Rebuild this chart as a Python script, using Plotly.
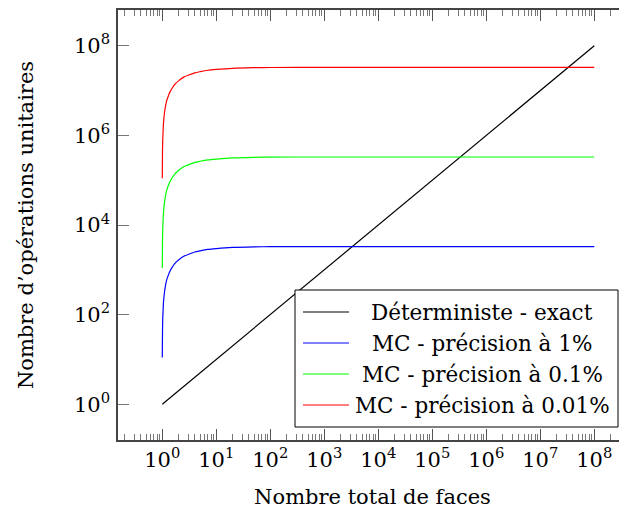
import plotly.graph_objects as go

# ---- data ----
det_x = [1, 1e8]
det_y = [1, 1e8]

mc_x = [1, 1.01, 1.02, 1.03, 1.05, 1.1, 1.2, 1.3, 1.4, 1.5, 1.7, 2, 2.5, 3, 4, 5, 7, 10, 20, 50, 100, 1000, 1e4, 1e8]
mc1_y = [11, 44, 80, 105, 180, 320, 580, 770, 950, 1100, 1370, 1650, 2000, 2200, 2500, 2650, 2850, 2970, 3150, 3250, 3280, 3300, 3300, 3300]
mc01_y = [1.1e3, 4.4e3, 8e3, 1.05e4, 1.8e4, 3.2e4, 5.8e4, 7.7e4, 9.5e4, 1.1e5, 1.37e5, 1.65e5, 2.0e5, 2.2e5, 2.5e5, 2.65e5, 2.85e5, 2.97e5, 3.15e5, 3.25e5, 3.28e5, 3.3e5, 3.3e5, 3.3e5]
mc001_y = [1.1e5, 4.4e5, 8e5, 1.05e6, 1.8e6, 3.2e6, 5.8e6, 7.7e6, 9.5e6, 1.1e7, 1.37e7, 1.65e7, 2.0e7, 2.2e7, 2.5e7, 2.65e7, 2.85e7, 2.97e7, 3.15e7, 3.25e7, 3.28e7, 3.3e7, 3.3e7, 3.3e7]

series_names = ["Déterministe - exact", "MC - précision à 1%", "MC - précision à 0.1%", "MC - précision à 0.01%"]
series_colors = ["black", "#0000ff", "#00ff00", "#ff0000"]

x_tickvals = [1, 10, 100, 1e3, 1e4, 1e5, 1e6, 1e7, 1e8]
x_ticktext = ["10<sup>%d</sup>" % i for i in range(9)]
y_tickvals = [1, 1e2, 1e4, 1e6, 1e8]
y_ticktext = ["10<sup>%d</sup>" % i for i in range(0, 9, 2)]

x_title = "Nombre total de faces"
y_title = "Nombre d’opérations unitaires"

FONT = "DejaVu Serif"
FS = 21

fig = go.Figure()
xs = [det_x, mc_x, mc_x, mc_x]
ys = [det_y, mc1_y, mc01_y, mc001_y]
for xv, yv, nm, col in zip(xs, ys, series_names, series_colors):
    fig.add_trace(go.Scatter(x=xv, y=yv, mode="lines", name=nm,
                             line=dict(color=col, width=1.2, shape="spline", smoothing=0.6),
                             showlegend=False))

OFF = 8  # page body margin
W, H = 619, 503
L, R, T, B = 110, 0, 2, 71
pw, ph = W - L - R, H - T - B

def px(xp):  # page pixel -> paper
    return (xp - OFF - L) / pw

def py(yp):
    return (H - B - (yp - OFF)) / ph

# manual legend (centred text as in reference)
fig.add_shape(type="rect", xref="paper", yref="paper",
              x0=px(295), x1=px(618), y0=py(427), y1=py(290),
              line=dict(color="black", width=1), fillcolor="white", layer="above")
row_y = [312, 343, 374, 405]
for nm, col, yy in zip(series_names, series_colors, row_y):
    fig.add_shape(type="line", xref="paper", yref="paper",
                  x0=px(303), x1=px(349), y0=py(yy), y1=py(yy),
                  line=dict(color=col, width=1.2), layer="above")
    fig.add_annotation(xref="paper", yref="paper", x=px(482), y=py(yy),
                       text=nm, showarrow=False, xanchor="center", yanchor="middle",
                       font=dict(family=FONT, size=FS + 0.5, color="black"))

fig.update_xaxes(type="log", range=[-0.82, 8.606], automargin=False,
                 tickvals=x_tickvals, ticktext=x_ticktext,
                 ticks="inside", ticklen=11, tickcolor="#555", tickwidth=1,
                 minor=dict(ticks="inside", ticklen=6, tickcolor="#777", dtick="D1", showgrid=False),
                 showline=True, linecolor="#444", linewidth=1.5, mirror="ticks",
                 showgrid=False, zeroline=False,
                 tickfont=dict(family=FONT, size=FS, color="black"),
                 title=dict(text=x_title, font=dict(family=FONT, size=FS, color="black"), standoff=18))
fig.update_yaxes(type="log", range=[-0.8, 8.8], automargin=False,
                 tickvals=y_tickvals, ticktext=y_ticktext,
                 ticks="inside", ticklen=11, tickcolor="#777", tickwidth=1,
                 ticklabelstandoff=2,
                 showline=True, linecolor="#444", linewidth=1.5, mirror=False,
                 showgrid=False, zeroline=False,
                 tickfont=dict(family=FONT, size=FS, color="black"),
                 title=dict(text=y_title, font=dict(family=FONT, size=FS, color="black"), standoff=35))

fig.update_layout(width=W, height=H, margin=dict(l=L, r=R, t=T, b=B),
                  paper_bgcolor="white", plot_bgcolor="white", showlegend=False)

fig.write_html("out.html")
